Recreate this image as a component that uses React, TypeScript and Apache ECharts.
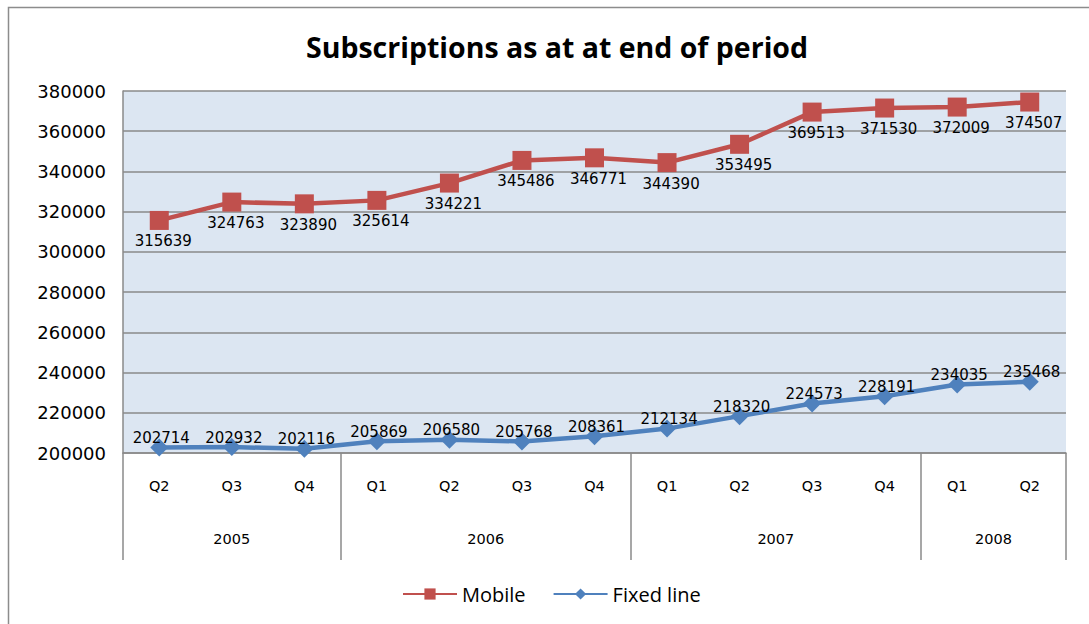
import React, { useEffect, useRef } from "react";
import * as echarts from "echarts";

const quarters = ["Q2", "Q3", "Q4", "Q1", "Q2", "Q3", "Q4", "Q1", "Q2", "Q3", "Q4", "Q1", "Q2"];
const yearNames = ["2005", "2006", "2007", "2008"];
const yearQuarterCounts = [3, 4, 4, 2];
const mobile = [315639, 324763, 323890, 325614, 334221, 345486, 346771, 344390, 353495, 369513, 371530, 372009, 374507];
const fixedLine = [202714, 202932, 202116, 205869, 206580, 205768, 208361, 212134, 218320, 224573, 228191, 234035, 235468];
const yMin = 200000;
const yMax = 380000;
const yStep = 20000;

const groupStarts: number[] = [];
const groupCenters: number[] = [];
{
  let s = 0;
  yearQuarterCounts.forEach((c) => {
    groupStarts.push(s);
    groupCenters.push(s + c / 2);
    s += c;
  });
}

const AXIS_GRAY = "#8a8a8a";

export default function App() {
  const ref = useRef<HTMLDivElement>(null);
  useEffect(() => {
    if (!ref.current) return;
    const chart = echarts.init(ref.current, null, { renderer: "svg" });
    chart.setOption({
      animation: false,
      title: {
        text: "Subscriptions as at at end of period",
        left: 552,
        top: 27,
        textAlign: "center",
        textStyle: { fontFamily: "Open Sans", fontWeight: "bold", fontSize: 28.5, color: "#000" },
      },
      graphic: [
        {
          type: "rect",
          shape: { x: 8.5, y: 7.5, width: 1100, height: 700 },
          style: { fill: "none", stroke: "#8c8c8c", lineWidth: 1.5 },
          silent: true,
        },
      ],
      legend: {
        left: 402,
        top: 584,
        padding: 0,
        itemWidth: 54,
        itemHeight: 14,
        itemGap: 27,
        textStyle: { fontFamily: "Open Sans", fontSize: 20, color: "#000" },
        data: ["Mobile", "Fixed line"],
      },
      grid: {
        left: 123,
        top: 91,
        right: 23,
        bottom: 171,
        show: true,
        backgroundColor: "#DCE6F2",
        borderWidth: 0,
      },
      xAxis: [
        {
          type: "category",
          data: quarters,
          boundaryGap: true,
          position: "bottom",
          axisLine: { show: true, lineStyle: { color: AXIS_GRAY, width: 1.5 } },
          axisTick: {
            show: true,
            length: 107,
            interval: (index: number) => groupStarts.includes(index),
            lineStyle: { color: AXIS_GRAY, width: 1.5 },
          },
          axisLabel: {
            interval: 0,
            margin: 25,
            fontFamily: "DejaVu Sans",
            fontSize: 14.5,
            color: "#000",
          },
          splitLine: { show: false },
        },
        {
          type: "value",
          min: 0,
          max: quarters.length,
          interval: 0.5,
          position: "bottom",
          axisLine: { show: false },
          axisTick: { show: false },
          splitLine: { show: false },
          axisLabel: {
            margin: 78,
            fontFamily: "DejaVu Sans",
            fontSize: 14.5,
            color: "#000",
            formatter: (v: number) => {
              const i = groupCenters.findIndex((c) => Math.abs(c - v) < 1e-6);
              return i >= 0 ? yearNames[i] : "";
            },
          },
        },
      ],
      yAxis: {
        type: "value",
        min: yMin,
        max: yMax,
        interval: yStep,
        axisLine: { show: true, lineStyle: { color: AXIS_GRAY, width: 1.5 } },
        axisTick: { show: false },
        axisLabel: {
          margin: 17,
          fontFamily: "DejaVu Sans",
          fontSize: 18,
          color: "#000",
          formatter: (v: number) => String(v),
        },
        splitLine: { show: true, lineStyle: { color: AXIS_GRAY, width: 1.5 } },
      },
      series: [
        {
          name: "Mobile",
          type: "line",
          data: mobile,
          xAxisIndex: 0,
          symbol: "rect",
          symbolSize: 19,
          color: "#C0504D",
          lineStyle: { width: 4.5, color: "#C0504D" },
          itemStyle: { color: "#C0504D" },
          label: {
            show: true,
            position: "bottom",
            distance: 0,
            offset: [4, 4],
            fontFamily: "DejaVu Sans",
            fontSize: 15,
            color: "#000",
          },
        },
        {
          name: "Fixed line",
          type: "line",
          data: fixedLine,
          xAxisIndex: 0,
          symbol: "diamond",
          symbolSize: 18,
          color: "#4F81BD",
          lineStyle: { width: 4.5, color: "#4F81BD" },
          itemStyle: { color: "#4F81BD" },
          label: {
            show: true,
            position: "top",
            distance: 0,
            offset: [2, 7],
            fontFamily: "DejaVu Sans",
            fontSize: 15,
            color: "#000",
          },
        },
      ],
    });
    return () => chart.dispose();
  }, []);
  return (
    <div
      ref={ref}
      style={{ position: "fixed", left: 0, top: 0, width: 1089, height: 624, background: "#fff" }}
    />
  );
}
